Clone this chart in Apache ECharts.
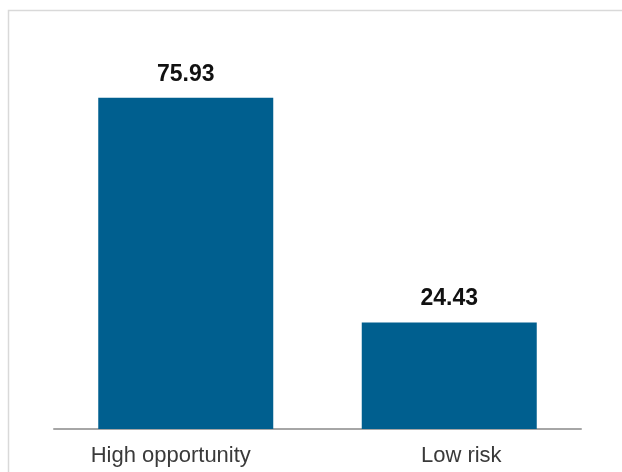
<!DOCTYPE html>
<html>
<head>
<meta charset="utf-8">
<script src="https://cdn.jsdelivr.net/npm/echarts@6/dist/echarts.min.js"></script>
<style>
  html, body { margin: 0; padding: 0; background: #fff; }
  #chart { width: 622px; height: 472px; }
</style>
</head>
<body>
<div id="chart"></div>
<script>
// Categories and their scores
var categories = ['High opportunity', 'Low risk'];
var scores = [75.93, 24.43];

var chart = echarts.init(document.getElementById('chart'), null, { renderer: 'canvas' });

chart.setOption({
  animation: false,
  backgroundColor: '#ffffff',
  graphic: [{
    type: 'rect',
    left: 6,
    top: 8,
    shape: { width: 700, height: 600 },
    style: { fill: 'none', stroke: '#d9d9d9', lineWidth: 1.5 },
    silent: true
  }],
  grid: { left: 54, right: 41, top: 80, bottom: 43, containLabel: false },
  xAxis: {
    type: 'category',
    data: categories,
    axisLine: { show: true, lineStyle: { color: '#a6a6a6', width: 2 } },
    axisTick: { show: false },
    axisLabel: {
      margin: 16,
      formatter: function (v, i) {
        return i === 0 ? '{a|' + v + '}' : '{b|' + v + '}';
      },
      rich: {
        a: { fontFamily: 'Liberation Sans, Arial, sans-serif', fontSize: 22, color: '#3a3a3a', padding: [0, 30, 0, 0] },
        b: { fontFamily: 'Liberation Sans, Arial, sans-serif', fontSize: 22, color: '#3a3a3a', padding: [0, 0, 0, 24] }
      }
    }
  },
  yAxis: {
    type: 'value',
    min: 0,
    max: 80,
    show: false,
    splitLine: { show: false }
  },
  series: [{
    type: 'bar',
    data: scores,
    barWidth: 175,
    itemStyle: { color: '#005f8f' },
    label: {
      show: true,
      position: 'top',
      distance: 12,
      formatter: function (p) { return p.value.toFixed(2); },
      fontFamily: 'Liberation Sans, Arial, sans-serif',
      fontWeight: 'bold',
      fontSize: 23,
      color: '#111111'
    }
  }]
});
</script>
</body>
</html>
